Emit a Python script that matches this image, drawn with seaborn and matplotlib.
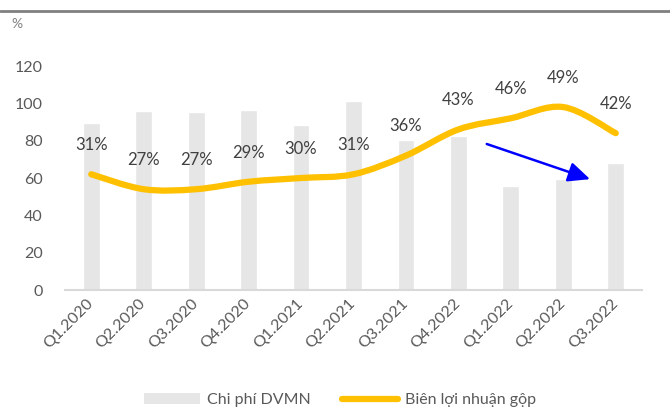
import matplotlib
matplotlib.use("Agg")
import matplotlib.pyplot as plt
from matplotlib.path import Path
from matplotlib.patches import PathPatch, Patch
from matplotlib.lines import Line2D
import numpy as np
import pandas as pd
import seaborn as sns

# Du lieu doc tu bieu do
quarters = ["Q1.2020", "Q2.2020", "Q3.2020", "Q4.2020", "Q1.2021", "Q2.2021",
            "Q3.2021", "Q4.2022", "Q1.2022", "Q2.2022", "Q3.2022"]
chi_phi_dvmn = [89.5, 96, 95.5, 96.2, 88.4, 101, 80.5, 82.5, 55.9, 59.6, 67.8]
bien_ln_gop = [31, 27, 27, 29, 30, 31, 36, 43, 46, 49, 42]

sns.set_theme(style="white")
plt.rcParams['font.family'] = ['Lato', 'DejaVu Sans']

fig = plt.figure(figsize=(6.7, 4.09), dpi=100)
ax = fig.add_axes([65 / 670, 1 - 290 / 409, (642 - 65) / 670, 224 / 409])

df = pd.DataFrame({"quy": quarters, "chi_phi": chi_phi_dvmn})
sns.barplot(data=df, x="quy", y="chi_phi", color="#E6E6E6", saturation=1,
            width=0.32, ax=ax)
ax.set_xlim(-0.5, len(quarters) - 0.5)
ax.set_ylim(0, 120)
ax.set_yticks(range(0, 121, 20))
ax.set_xlabel("")
ax.set_ylabel("")
for s in ["top", "right", "left"]:
    ax.spines[s].set_visible(False)
ax.spines["bottom"].set_color("#D9D9D9")
ax.spines["bottom"].set_linewidth(1.5)
ax.tick_params(axis="y", length=0, pad=16, labelsize=11.5, labelcolor="#595959")
ax.tick_params(axis="x", length=0, pad=8, labelsize=11.5, labelcolor="#595959")
plt.setp(ax.get_xticklabels(), rotation=45, ha="right", va="center",
         rotation_mode="anchor")

# Truc phu cho bien loi nhuan (0-60%)
ax2 = ax.twinx()
ax2.set_ylim(0, 60)
ax2.axis("off")

# duong cong muot kieu Excel (Catmull-Rom -> Bezier)
xs = np.arange(len(bien_ln_gop), dtype=float)
ys = np.array(bien_ln_gop, dtype=float)
pts = np.column_stack([xs, ys])
verts = [pts[0]]
codes = [Path.MOVETO]
for i in range(len(pts) - 1):
    p0 = pts[i - 1] if i > 0 else pts[i]
    p1, p2 = pts[i], pts[i + 1]
    p3 = pts[i + 2] if i + 2 < len(pts) else pts[i + 1]
    verts += [p1 + (p2 - p0) / 6, p2 - (p3 - p1) / 6, p2]
    codes += [Path.CURVE4] * 3
ax2.add_patch(PathPatch(Path(verts, codes), facecolor="none", edgecolor="#FFC000",
                        lw=4.5, capstyle="round", joinstyle="round"))

for i, v in enumerate(bien_ln_gop):
    ax2.annotate(f"{v}%", (i, v), xytext=(0, 21), textcoords="offset points",
                 ha="center", va="center", fontsize=12, color="#404040")

# mui ten xanh
ax.annotate("", xy=(9.56, 58.9), xytext=(7.49, 78.7),
            arrowprops=dict(arrowstyle="-|>,head_length=0.55,head_width=0.25",
                            color="#0000FF", lw=1.8, mutation_scale=24))

# duong ke va ky hieu phia tren
fig.add_artist(Line2D([0, 1], [1 - 11 / 409] * 2, transform=fig.transFigure,
                      color="#808080", lw=2))
fig.text(17 / 670, 1 - 24 / 409, "%", color="#808080", fontsize=10,
         ha="center", va="center")

handles = [Patch(facecolor="#E6E6E6", edgecolor="none"),
           Line2D([], [], color="#FFC000", lw=4.5)]
fig.legend(handles, ["Chi phí DVMN", "Biên lợi nhuận gộp"], loc="center",
           bbox_to_anchor=(340 / 670, 1 - 400 / 409), ncol=2, frameon=False,
           fontsize=11.5, labelcolor="#595959", handlelength=3.5,
           handletextpad=0.4, columnspacing=2.0)

fig.savefig("out.png", dpi=100)
